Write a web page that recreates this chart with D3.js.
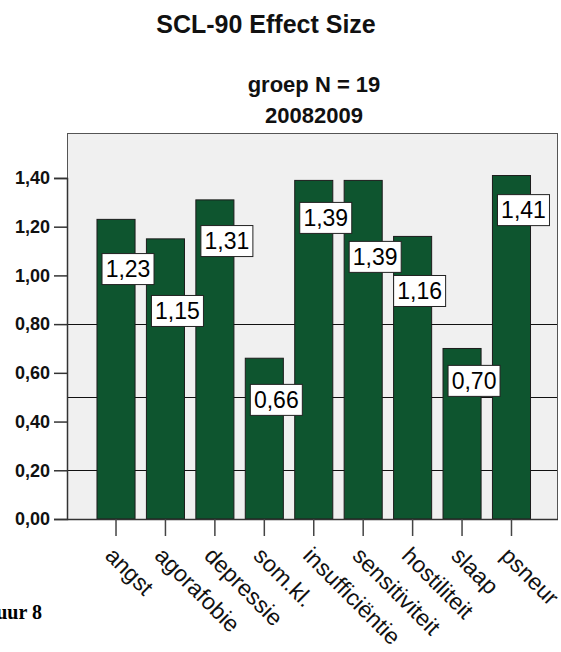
<!DOCTYPE html>
<html>
<head>
<meta charset="utf-8">
<script src="https://cdn.jsdelivr.net/npm/d3@7"></script>
<style>
  html, body { margin: 0; padding: 0; background: #ffffff; }
  svg { display: block; }
  text { font-family: "Liberation Sans", Arial, sans-serif; }
</style>
</head>
<body>
<svg id="chart" width="561" height="652"></svg>
<script>
// ---- data ----
const categories = ["angst", "agorafobie", "depressie", "som.kl.", "insufficiëntie",
                    "sensitiviteit", "hostiliteit", "slaap", "psneur"];
const effectSizes = [1.23, 1.15, 1.31, 0.66, 1.39, 1.39, 1.16, 0.70, 1.41];
const yTicks = [0, 0.2, 0.4, 0.6, 0.8, 1.0, 1.2, 1.4];
const referenceLines = [0.2, 0.5, 0.8];
const titleText = "SCL-90 Effect Size";
const subtitleLines = ["groep N = 19", "20082009"];
const figureCaption = "Figuur 8";

// ---- layout (label placement, in value units / pixels) ----
const labelCenterValue = [1.026, 0.854, 1.141, 0.489, 1.236, 1.076, 0.936, 0.567, 1.268];
const labelDx = [12, 12, 12, 12, 12, 12, 7, 12, 12];

const svg = d3.select("#chart");
const plot = { left: 67, right: 558, top: 133, bottom: 519 };

const nl = d3.formatLocale({ decimal: ",", thousands: ".", grouping: [3], currency: ["", ""] });
const fmt = nl.format(".2f");

const y = d3.scaleLinear().domain([0, 1.4]).range([plot.bottom, plot.bottom - 1.4 * 243.6]);
const x = d3.scaleBand().domain(categories).range([91.3, 536.2]).paddingInner(0.23).paddingOuter(0.115);

// background
svg.append("rect")
  .attr("x", plot.left).attr("y", plot.top)
  .attr("width", plot.right - plot.left).attr("height", plot.bottom - plot.top)
  .attr("fill", "#f0f0f0");

// reference lines (behind bars)
svg.append("g").selectAll("line").data(referenceLines).join("line")
  .attr("x1", plot.left).attr("x2", plot.right)
  .attr("y1", d => Math.round(y(d)) + 0.5).attr("y2", d => Math.round(y(d)) + 0.5)
  .attr("stroke", "#111").attr("stroke-width", 1);

// bars
svg.append("g").selectAll("rect").data(effectSizes).join("rect")
  .attr("x", (d, i) => x(categories[i]))
  .attr("width", x.bandwidth())
  .attr("y", d => y(d))
  .attr("height", d => plot.bottom - y(d))
  .attr("fill", "#0e552f")
  .attr("stroke", "#1c1c1c").attr("stroke-width", 1);

// frame
svg.append("rect")
  .attr("x", plot.left + 0.5).attr("y", plot.top + 0.5)
  .attr("width", plot.right - plot.left - 1).attr("height", plot.bottom - plot.top)
  .attr("fill", "none").attr("stroke", "#555").attr("stroke-width", 1);

// y axis
const yAxis = d3.axisLeft(y).tickValues(yTicks).tickFormat(fmt).tickSize(13).tickPadding(4);
const gy = svg.append("g").attr("transform", `translate(${plot.left},0)`).call(yAxis);
gy.select(".domain").attr("stroke", "#333").attr("stroke-width", 1.5);
gy.selectAll(".tick line").attr("stroke", "#333").attr("stroke-width", 1.5);
gy.selectAll(".tick text")
  .attr("font-family", "Liberation Sans, Arial, sans-serif")
  .attr("font-size", 18).attr("font-weight", "bold").attr("fill", "#111");

// x axis
const xAxis = d3.axisBottom(x).tickSize(17).tickFormat("");
const gx = svg.append("g").attr("transform", `translate(0,${plot.bottom})`).call(xAxis);
gx.select(".domain").attr("stroke", "#333").attr("stroke-width", 1.5)
  .attr("d", `M${plot.left},0.5H${plot.right}`);
gx.selectAll(".tick line").attr("stroke", "#444").attr("stroke-width", 1.5);

// x labels (rotated)
svg.append("g").selectAll("text").data(categories).join("text")
  .attr("transform", d => `translate(${x(d) + x.bandwidth() / 2 - 12},${plot.bottom + 38}) rotate(45)`)
  .attr("text-anchor", "start")
  .attr("font-size", 23)
  .attr("fill", "#111")
  .text(d => d);

// value labels
const lab = svg.append("g").selectAll("g").data(effectSizes).join("g")
  .attr("transform", (d, i) => `translate(${x(categories[i]) + x.bandwidth() / 2 + labelDx[i]},${y(labelCenterValue[i])})`);
lab.append("rect")
  .attr("x", -26).attr("y", -15.5).attr("width", 52).attr("height", 31)
  .attr("fill", "#ffffff").attr("stroke", "#222").attr("stroke-width", 1);
lab.append("text")
  .attr("text-anchor", "middle").attr("dy", "0.36em")
  .attr("font-size", 23).attr("fill", "#000")
  .text(d => fmt(d));

// titles
svg.append("text").attr("x", 266).attr("y", 33).attr("text-anchor", "middle")
  .attr("font-size", 25).attr("font-weight", "bold").attr("fill", "#111").text(titleText);
svg.append("g").selectAll("text").data(subtitleLines).join("text")
  .attr("x", 314).attr("y", (d, i) => 92 + i * 31).attr("text-anchor", "middle")
  .attr("font-size", 22).attr("font-weight", "bold").attr("fill", "#111").text(d => d);

// caption (partially cut off at the left edge as in the source)
svg.append("text").attr("x", 42).attr("y", 619).attr("text-anchor", "end")
  .style("font-family", "'Liberation Serif', 'Times New Roman', serif")
  .attr("font-size", 20).attr("font-weight", "bold").attr("fill", "#000").text(figureCaption);
</script>
</body>
</html>
